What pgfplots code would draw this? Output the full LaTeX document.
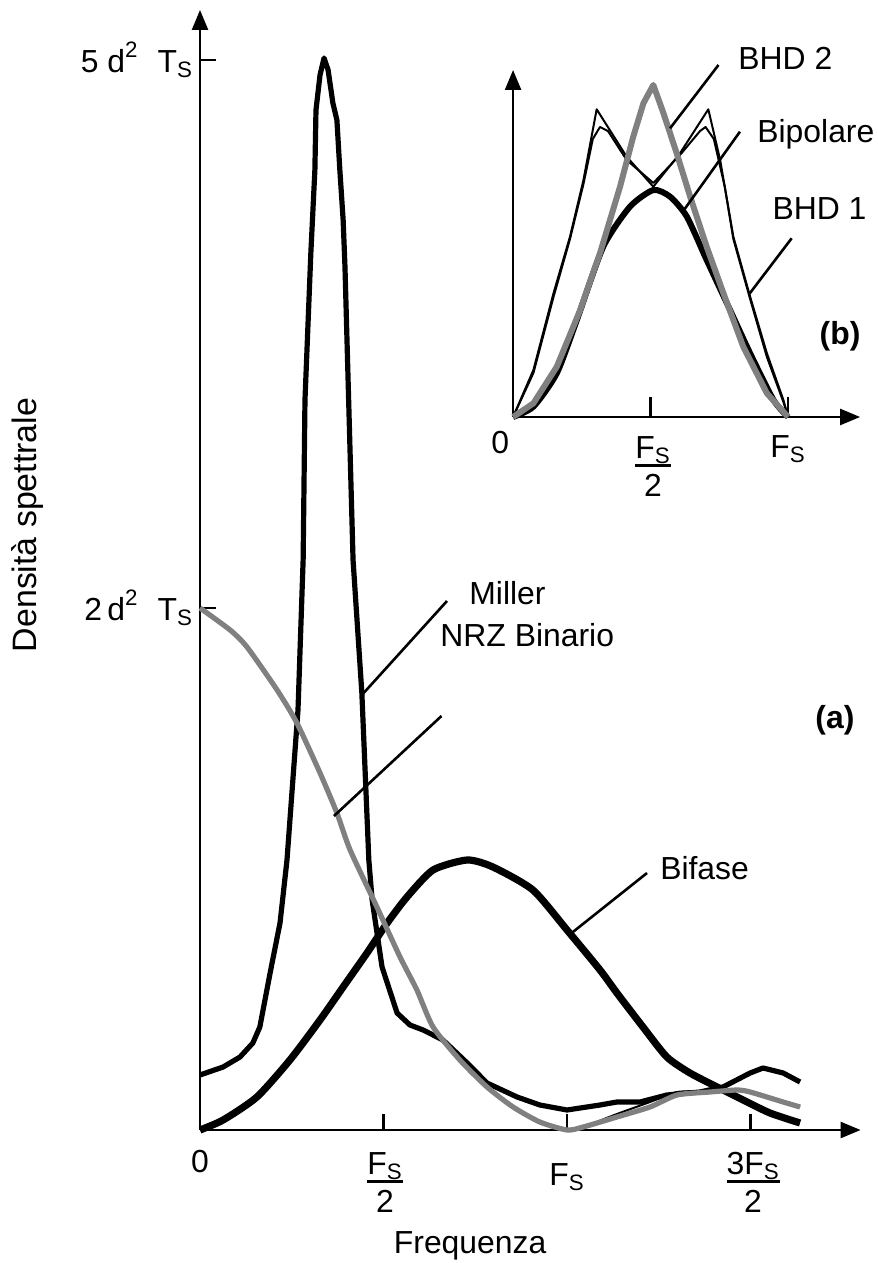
\documentclass[border=0pt]{standalone}
\usepackage{amsmath}
\usepackage{fontspec}
\setmainfont{Liberation Sans}
\usepackage{pgfplots}
\pgfplotsset{compat=1.18}
\usetikzlibrary{arrows.meta}

\definecolor{nrzgray}{RGB}{128,128,128}
\newcommand{\FS}{$\text{F}_{\text{S}}$}
\newcommand{\TS}{\text{T}_{\text{S}}}
% stacked fraction set in the text font
\newcommand{\fr}[1]{{\setlength{\arrayrulewidth}{1.3bp}%
  \begin{tabular}{@{}c@{}}#1\\[-3pt]\hline\rule{0pt}{15pt}2\end{tabular}}}

\begin{document}
\begin{tikzpicture}[font=\fontsize{16}{19}\selectfont, line join=round, line cap=round]
% main chart (a)
\begin{axis}[
  name=main,
  x=183.5bp, y=50bp,
  xmin=0, xmax=1.80, ymin=0, ymax=11.2,
  axis lines=left,
  axis line style={line width=1.2bp, -{Triangle[length=10bp,width=8bp]}},
  tick align=inside, major tick length=8bp,
  tick style={line width=1.2bp, black},
  xtick={0.5,1,1.5}, xticklabels={},
  ytick={5.22,10.70},
  yticklabels={$\text{2\,d}^{\text{2}}\;\;\TS$, $\text{5 d}^{\text{2}}\;\;\TS$},
  tick label style={font=\fontsize{16}{19}\selectfont},
  clip=false,
]
% Bifase
\addplot[black, line width=3.6bp, smooth, tension=0.4] coordinates {
 (0,0) (0.063,0.10) (0.155,0.33) (0.245,0.70) (0.327,1.10) (0.390,1.43)
 (0.455,1.77) (0.510,2.07) (0.564,2.33) (0.635,2.60) (0.728,2.70) (0.798,2.63)
 (0.907,2.40) (1.000,2.00) (1.090,1.60) (1.136,1.37) (1.207,1.03) (1.272,0.73)
 (1.335,0.57) (1.409,0.43) (1.480,0.30) (1.553,0.17) (1.635,0.07)};
% Miller
\addplot[black, line width=2.6bp] coordinates {
 (0,0.55) (0.063,0.63) (0.109,0.73) (0.144,0.87) (0.163,1.03) (0.191,1.57)
 (0.218,2.07) (0.237,2.70) (0.267,4.20) (0.281,5.70) (0.286,7.30) (0.302,8.77)
 (0.313,9.60) (0.316,10.20) (0.327,10.55) (0.338,10.72) (0.349,10.60) (0.362,10.27)
 (0.373,10.10) (0.381,9.60) (0.390,9.10) (0.395,8.63) (0.417,5.70) (0.441,4.37)
 (0.460,2.70) (0.469,2.30) (0.496,1.63) (0.537,1.17) (0.572,1.05) (0.608,1.00)
 (0.662,0.90) (0.728,0.67) (0.782,0.47) (0.864,0.33) (0.926,0.25) (1.000,0.20)
 (1.090,0.25) (1.136,0.28) (1.199,0.28) (1.272,0.35) (1.362,0.38) (1.425,0.43)
 (1.499,0.57) (1.534,0.62) (1.589,0.57) (1.635,0.48)};
% NRZ Binario (thin black companion)
\addplot[black, line width=1bp, smooth, tension=0.4] coordinates {
 (0,5.22) (0.082,5.00) (0.128,4.83) (0.210,4.40) (0.264,4.07) (0.327,3.57)
 (0.373,3.17) (0.409,2.80) (0.482,2.23) (0.545,1.73) (0.591,1.40) (0.635,1.03)
 (0.708,0.70) (0.782,0.43) (0.853,0.23) (0.926,0.08) (1.000,0.00) (1.044,0.03)
 (1.136,0.16) (1.226,0.28) (1.300,0.38) (1.390,0.39) (1.463,0.40) (1.499,0.38)
 (1.589,0.28) (1.635,0.23)};
% NRZ Binario (gray)
\addplot[nrzgray, line width=2.6bp, smooth, tension=0.4] coordinates {
 (0,5.22) (0.082,5.00) (0.128,4.83) (0.210,4.40) (0.264,4.07) (0.327,3.57)
 (0.373,3.17) (0.409,2.80) (0.482,2.23) (0.545,1.73) (0.591,1.40) (0.635,1.03)
 (0.708,0.70) (0.782,0.43) (0.853,0.23) (0.926,0.08) (1.000,0.00) (1.044,0.03)
 (1.136,0.13) (1.226,0.23) (1.300,0.35) (1.390,0.38) (1.463,0.40) (1.499,0.38)
 (1.589,0.28) (1.635,0.23)};

% leaders and labels
\draw[line width=1.3bp] (axis cs:0.673,5.29) -- (axis cs:0.441,4.35);
\draw[line width=1.3bp] (axis cs:0.658,4.14) -- (axis cs:0.365,3.14);
\draw[line width=1.3bp] (axis cs:1.218,2.57) -- (axis cs:1.016,1.98);
\node[anchor=base west, inner sep=0] at (axis cs:0.733,5.25) {Miller};
\node[anchor=base west, inner sep=0] at (axis cs:0.654,4.83) {NRZ Binario};
\node[anchor=base west, inner sep=0] at (axis cs:1.253,2.50) {Bifase};
\node[font=\fontsize{16}{19}\selectfont\bfseries] at (axis cs:1.730,4.10) {(a)};
% x tick labels
\node at (axis cs:0,-0.32) {0};
\node at (axis cs:0.504,-0.56) {\fr{\FS}};
\node at (axis cs:1,-0.47) {\FS};
\node at (axis cs:1.507,-0.56) {\fr{3\FS}};
\node at (axis cs:0.736,-1.16) {Frequenza};
\node[rotate=90, font=\fontsize{17}{20}\selectfont] at (axis cs:-0.470,6.05) {Densità spettrale};

\coordinate (io) at (axis cs:0.853,7.13);
\coordinate (bl) at (axis cs:-0.545,-1.33);
\coordinate (tr) at (axis cs:1.845,11.30);
\end{axis}

% inset (b)
\begin{axis}[
  at={(io)}, anchor=south west,
  x=137.5bp, y=50bp,
  xmin=0, xmax=1.262, ymin=0, ymax=3.47,
  axis lines=left,
  axis line style={line width=1.2bp, -{Triangle[length=10bp,width=8bp]}},
  tick align=inside, major tick length=10bp,
  tick style={line width=1.2bp, black},
  xtick={0.5,1}, xticklabels={},
  ytick=\empty,
  clip=false,
]
% BHD 1 (thin, sharp peaks)
\addplot[black, line width=1bp] coordinates {
 (0,0) (0.074,0.47) (0.147,1.237) (0.207,1.803) (0.256,2.37) (0.304,3.077)
 (0.413,2.603) (0.510,2.303) (0.607,2.637) (0.710,3.077) (0.753,2.57)
 (0.801,1.803) (0.862,1.203) (0.923,0.637) (0.983,0.17) (1,0)};
% thin, rounded peaks
\addplot[black, line width=1bp] coordinates {
 (0,0) (0.074,0.44) (0.147,1.20) (0.207,1.78) (0.256,2.33) (0.29,2.78)
 (0.316,2.90) (0.345,2.86) (0.413,2.57) (0.510,2.34) (0.607,2.62) (0.68,2.86)
 (0.70,2.90) (0.73,2.78) (0.77,2.30) (0.801,1.78) (0.862,1.18) (0.923,0.60)
 (0.983,0.15) (1,0)};
% Bipolare (thick black)
\addplot[black, line width=3bp, smooth, tension=0.4] coordinates {
 (0,0) (0.074,0.103) (0.159,0.437) (0.232,0.97) (0.328,1.703) (0.425,2.103)
 (0.510,2.27) (0.571,2.203) (0.632,2.003) (0.704,1.57) (0.789,1.07)
 (0.862,0.637) (0.947,0.17) (1,0)};
% BHD 2 (gray)
\addplot[nrzgray, line width=3bp] coordinates {
 (0,0) (0.074,0.137) (0.159,0.503) (0.244,1.07) (0.316,1.637) (0.389,2.303)
 (0.437,2.803) (0.474,3.137) (0.510,3.32) (0.547,3.037) (0.595,2.637)
 (0.644,2.203) (0.704,1.703) (0.765,1.237) (0.837,0.703) (0.923,0.237) (1,0)};

\draw[line width=1.3bp] (axis cs:0.747,3.52) -- (axis cs:0.571,2.887);
\draw[line width=1.3bp] (axis cs:0.825,2.853) -- (axis cs:0.617,2.053);
\draw[line width=1.3bp] (axis cs:1.013,1.787) -- (axis cs:0.859,1.23);
\node[anchor=base west, inner sep=0] at (axis cs:0.818,3.47) {BHD 2};
\node[anchor=base west, inner sep=0] at (axis cs:0.887,2.74) {Bipolare};
\node[anchor=base west, inner sep=0] at (axis cs:0.942,1.97) {BHD 1};
\node[font=\fontsize{16}{19}\selectfont\bfseries] at (axis cs:1.189,0.81) {(b)};
% x tick labels
\node at (axis cs:-0.047,-0.26) {0};
\node at (axis cs:0.509,-0.53) {\fr{\FS}};
\node at (axis cs:1,-0.32) {\FS};
\end{axis}

\pgfresetboundingbox
\path (bl) rectangle (tr);
\end{tikzpicture}
\end{document}
